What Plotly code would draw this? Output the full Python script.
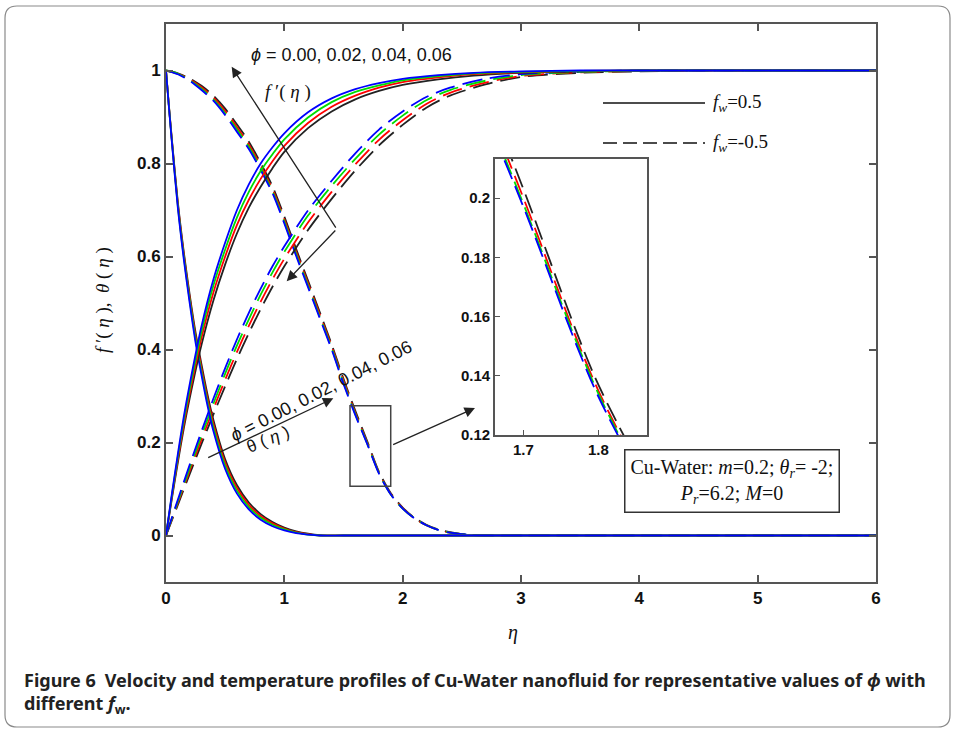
import plotly.graph_objects as go

# ---------------- data ----------------
phi_labels = ["0.00", "0.02", "0.04", "0.06"]
series_colors = ["#222222", "#ff0000", "#00dd00", "#0000ff"]

# f'(eta), f_w = 0.5 (solid)
eta_fp_s = [0, 0.05, 0.1, 0.15, 0.2, 0.3, 0.4, 0.5, 0.6, 0.7, 0.8, 0.9, 1.0, 1.2, 1.4, 1.6, 1.8, 2.0, 2.3, 2.6, 3.0, 3.5, 4.0, 5.0, 6.0]
fp_s_000 = [0, 0.080, 0.157, 0.230, 0.295, 0.410, 0.505, 0.583, 0.650, 0.705, 0.750, 0.790, 0.825, 0.876, 0.912, 0.938, 0.956, 0.969, 0.981, 0.989, 0.995, 0.998, 1.0, 1.0, 1.0]
fp_s_002 = [0, 0.084, 0.163, 0.238, 0.305, 0.425, 0.522, 0.600, 0.668, 0.722, 0.767, 0.805, 0.838, 0.887, 0.922, 0.946, 0.963, 0.975, 0.985, 0.992, 0.996, 0.999, 1.0, 1.0, 1.0]
fp_s_004 = [0, 0.087, 0.169, 0.247, 0.315, 0.438, 0.537, 0.615, 0.684, 0.739, 0.784, 0.820, 0.852, 0.899, 0.932, 0.954, 0.968, 0.979, 0.988, 0.994, 0.997, 0.999, 1.0, 1.0, 1.0]
fp_s_006 = [0, 0.090, 0.175, 0.255, 0.325, 0.450, 0.550, 0.630, 0.700, 0.755, 0.800, 0.835, 0.865, 0.910, 0.940, 0.960, 0.973, 0.982, 0.990, 0.995, 0.998, 1.0, 1.0, 1.0, 1.0]

# theta(eta), f_w = 0.5 (solid)
eta_th_s = [0, 0.025, 0.05, 0.1, 0.15, 0.2, 0.25, 0.3, 0.35, 0.4, 0.5, 0.6, 0.7, 0.8, 0.9, 1.0, 1.1, 1.2, 1.3, 1.5, 2.0, 3.0, 4.0, 5.0, 6.0]
th_s_000 = [1.0, 0.923, 0.851, 0.717, 0.610, 0.518, 0.436, 0.368, 0.304, 0.249, 0.164, 0.108, 0.071, 0.046, 0.029, 0.017, 0.009, 0.004, 0.001, 0, 0, 0, 0, 0, 0]
th_s_002 = [1.0, 0.922, 0.849, 0.713, 0.605, 0.512, 0.429, 0.360, 0.296, 0.241, 0.157, 0.102, 0.066, 0.042, 0.026, 0.015, 0.007, 0.003, 0.0, 0, 0, 0, 0, 0, 0]
th_s_004 = [1.0, 0.921, 0.847, 0.709, 0.600, 0.506, 0.422, 0.352, 0.288, 0.233, 0.150, 0.096, 0.061, 0.038, 0.023, 0.013, 0.006, 0.002, 0.0, 0, 0, 0, 0, 0, 0]
th_s_006 = [1.0, 0.920, 0.845, 0.705, 0.595, 0.500, 0.415, 0.345, 0.280, 0.225, 0.143, 0.090, 0.056, 0.034, 0.020, 0.011, 0.005, 0.002, 0.0, 0, 0, 0, 0, 0, 0]

# f'(eta), f_w = -0.5 (dashed)
eta_fp_d = [0, 0.1, 0.2, 0.3, 0.4, 0.5, 0.6, 0.7, 0.8, 0.9, 1.0, 1.2, 1.4, 1.6, 1.8, 2.0, 2.2, 2.4, 2.7, 3.0, 3.5, 4.0, 4.5, 5.0, 6.0]
fp_d_000 = [0, 0.066, 0.132, 0.197, 0.260, 0.321, 0.380, 0.435, 0.487, 0.535, 0.579, 0.657, 0.724, 0.785, 0.839, 0.883, 0.920, 0.946, 0.970, 0.986, 0.995, 0.998, 1.0, 1.0, 1.0]
fp_d_002 = [0, 0.070, 0.139, 0.206, 0.272, 0.335, 0.395, 0.451, 0.503, 0.551, 0.595, 0.673, 0.739, 0.798, 0.851, 0.893, 0.928, 0.952, 0.974, 0.988, 0.996, 0.999, 1.0, 1.0, 1.0]
fp_d_004 = [0, 0.073, 0.145, 0.215, 0.283, 0.348, 0.409, 0.465, 0.518, 0.566, 0.610, 0.688, 0.752, 0.810, 0.862, 0.903, 0.936, 0.958, 0.978, 0.990, 0.997, 0.999, 1.0, 1.0, 1.0]
fp_d_006 = [0, 0.077, 0.152, 0.224, 0.294, 0.360, 0.422, 0.479, 0.531, 0.579, 0.622, 0.699, 0.763, 0.822, 0.873, 0.912, 0.943, 0.963, 0.982, 0.992, 0.998, 1.0, 1.0, 1.0, 1.0]

# theta(eta), f_w = -0.5 (dashed)
eta_th_d = [0, 0.1, 0.2, 0.3, 0.4, 0.5, 0.6, 0.7, 0.8, 0.9, 1.0, 1.1, 1.2, 1.3, 1.4, 1.5, 1.6, 1.7, 1.8, 1.9, 2.0, 2.1, 2.2, 2.3, 2.4, 2.5, 2.6, 2.7, 3.0, 4.0, 5.0, 6.0]
th_d_000 = [1.0, 0.994, 0.983, 0.967, 0.946, 0.918, 0.884, 0.847, 0.801, 0.751, 0.686, 0.616, 0.548, 0.480, 0.411, 0.337, 0.268, 0.203, 0.137, 0.091, 0.060, 0.038, 0.023, 0.013, 0.007, 0.003, 0.001, 0, 0, 0, 0, 0]
th_d_002 = [1.0, 0.993, 0.981, 0.964, 0.942, 0.913, 0.878, 0.841, 0.795, 0.745, 0.680, 0.610, 0.543, 0.475, 0.407, 0.333, 0.264, 0.200, 0.135, 0.089, 0.059, 0.037, 0.022, 0.012, 0.006, 0.003, 0.001, 0, 0, 0, 0, 0]
th_d_004 = [1.0, 0.993, 0.979, 0.961, 0.938, 0.908, 0.873, 0.836, 0.790, 0.740, 0.675, 0.605, 0.538, 0.470, 0.403, 0.329, 0.261, 0.198, 0.134, 0.088, 0.058, 0.037, 0.022, 0.012, 0.006, 0.003, 0.001, 0, 0, 0, 0, 0]
th_d_006 = [1.0, 0.992, 0.978, 0.958, 0.935, 0.904, 0.868, 0.831, 0.786, 0.736, 0.671, 0.601, 0.534, 0.467, 0.400, 0.326, 0.259, 0.197, 0.133, 0.088, 0.058, 0.037, 0.022, 0.012, 0.006, 0.003, 0.001, 0, 0, 0, 0, 0]

x_ticks = [0, 1, 2, 3, 4, 5, 6]
y_ticks = [0, 0.2, 0.4, 0.6, 0.8, 1]
y_ticktext = ["0", "0.2", "0.4", "0.6", "0.8", "1"]
inset_x_ticks = [1.7, 1.8]
inset_y_ticks = [0.12, 0.14, 0.16, 0.18, 0.2]
inset_y_ticktext = ["0.12", "0.14", "0.16", "0.18", "0.2"]

# ---------------- layout helpers ----------------
W, H = 955, 732
L, R, T, B = 166, 876, 24, 582


def pxx(px):
    return (px - L) / (R - L)


def pxy(py):
    return (B - py) / (B - T)


DASH = "20px,8px"
fig = go.Figure()

groups = [
    (eta_th_d, [th_d_000, th_d_002, th_d_004, th_d_006], DASH, "θ, fw=-0.5"),
    (eta_fp_d, [fp_d_000, fp_d_002, fp_d_004, fp_d_006], DASH, "f', fw=-0.5"),
    (eta_th_s, [th_s_000, th_s_002, th_s_004, th_s_006], "solid", "θ, fw=0.5"),
    (eta_fp_s, [fp_s_000, fp_s_002, fp_s_004, fp_s_006], "solid", "f', fw=0.5"),
]
for eta, ys, dash, nm in groups:
    for lab, col, y in zip(phi_labels, series_colors, ys):
        fig.add_trace(go.Scatter(
            x=eta, y=y, mode="lines", name=f"{nm}, φ={lab}",
            line=dict(color=col, width=1.8, dash=dash, shape="spline", smoothing=0.8),
            showlegend=False, xaxis="x", yaxis="y"))

# inset: zoom of dashed theta
for lab, col, y in zip(phi_labels, series_colors, [th_d_000, th_d_002, th_d_004, th_d_006]):
    fig.add_trace(go.Scatter(
        x=eta_th_d, y=y, mode="lines", showlegend=False,
        line=dict(color=col, width=1.8, dash=DASH, shape="spline", smoothing=0.8),
        xaxis="x2", yaxis="y2"))

axis_col = "#555555"
tickfont = dict(family="Liberation Sans, Arial", size=17, color="#111", weight="bold")
insetfont = dict(family="Liberation Sans, Arial", size=15, color="#111", weight="bold")

fig.update_layout(
    width=W, height=H,
    margin=dict(l=L, r=W - R, t=T, b=H - B, pad=0),
    paper_bgcolor="white", plot_bgcolor="white",
    xaxis=dict(range=[0, 6], tickvals=x_ticks, ticks="inside", ticklen=7, tickwidth=1.5,
               tickcolor=axis_col, showline=True, linecolor=axis_col, linewidth=1.8,
               mirror="ticks", showgrid=False, zeroline=False, tickfont=tickfont,
               domain=[0, 1]),
    yaxis=dict(range=[-0.1, 1.1], tickvals=y_ticks, ticktext=y_ticktext, ticks="inside",
               ticklen=7, tickwidth=1.5, tickcolor=axis_col, showline=True, linecolor=axis_col,
               linewidth=1.8, mirror="ticks", showgrid=False, zeroline=False, tickfont=tickfont,
               domain=[0, 1]),
    xaxis2=dict(range=[1.662, 1.865], tickvals=inset_x_ticks, ticktext=["1.7", "1.8"],
                ticks="inside", ticklen=5, tickcolor=axis_col, showline=True,
                linecolor=axis_col, linewidth=1.8, mirror=True, showgrid=False, zeroline=False,
                tickfont=insetfont, domain=[pxx(495), pxx(647)], anchor="y2"),
    yaxis2=dict(range=[0.12, 0.2132], tickvals=inset_y_ticks, ticktext=inset_y_ticktext,
                ticks="inside", ticklen=5, tickcolor=axis_col, showline=True,
                linecolor=axis_col, linewidth=1.8, mirror=True, showgrid=False, zeroline=False,
                tickfont=insetfont, domain=[pxy(435), pxy(159)], anchor="x2"),
)

shapes = []
# outer rounded frame
x0, x1, y0, y1 = pxx(5), pxx(950), pxy(727), pxy(6)
rx, ry = 12 / (R - L), 12 / (B - T)
path = (f"M {x0+rx},{y1} L {x1-rx},{y1} Q {x1},{y1} {x1},{y1-ry} L {x1},{y0+ry} "
        f"Q {x1},{y0} {x1-rx},{y0} L {x0+rx},{y0} Q {x0},{y0} {x0},{y0+ry} "
        f"L {x0},{y1-ry} Q {x0},{y1} {x0+rx},{y1} Z")
shapes.append(dict(type="path", xref="paper", yref="paper", path=path,
                   line=dict(color="#8a8a8a", width=1.2)))
# legend samples
shapes.append(dict(type="line", xref="paper", yref="paper", x0=pxx(603), x1=pxx(705),
                   y0=pxy(103), y1=pxy(103), line=dict(color="#111", width=1.5)))
shapes.append(dict(type="line", xref="paper", yref="paper", x0=pxx(603), x1=pxx(705),
                   y0=pxy(143), y1=pxy(143), line=dict(color="#111", width=1.5, dash="14px,6px")))
# zoom rectangle
shapes.append(dict(type="rect", xref="x", yref="y", x0=1.555, x1=1.899, y0=0.106, y1=0.279,
                   line=dict(color="#444", width=1.5)))
fig.update_layout(shapes=shapes)

serif = "Liberation Serif, Times New Roman"
sans = "Liberation Sans, Arial"
ann = []


def arrow(xh, yh, xt, yt):
    ann.append(dict(x=xh, y=yh, ax=xt, ay=yt, xref="x", yref="y", axref="x", ayref="y",
                    text="", showarrow=True, arrowhead=2, arrowsize=1.6, arrowwidth=1.3,
                    arrowcolor="#222"))


def label(px, py, text, font, angle=0, xanchor="center", **kw):
    ann.append(dict(x=pxx(px), y=pxy(py), xref="paper", yref="paper", showarrow=False,
                    xanchor=xanchor, yanchor="middle", textangle=angle, text=text, font=font, **kw))


arrow(0.555, 1.008, 1.443, 0.659)
arrow(1.02, 0.547, 1.443, 0.659)
arrow(1.414, 0.295, 0.344, 0.166)
arrow(2.611, 0.274, 1.907, 0.194)

label(351, 55, "<i>ϕ</i> = 0.00, 0.02, 0.04, 0.06", dict(family=sans, size=18, color="#111"))
label(288, 92, "<i>f</i> ′( <i>η</i> )", dict(family=serif, size=19, color="#111"))
label(321, 391, "<i>ϕ</i> = 0.00, 0.02, 0.04, 0.06", dict(family=sans, size=18, color="#111"), angle=-27)
label(268, 440, "θ ( <i>η</i> )", dict(family=sans, size=17, color="#111"), angle=-22)
# legend labels
label(711, 103, "<i>f</i><sub><i>w</i></sub>=0.5", dict(family=serif, size=19, color="#111"), xanchor="left")
label(711, 143, "<i>f</i><sub><i>w</i></sub>=-0.5", dict(family=serif, size=19, color="#111"), xanchor="left")
# parameter box
label(732, 481, "Cu-Water: <i>m</i>=0.2; <i>θ</i><sub><i>r</i></sub>= -2;<br><i>P</i><sub><i>r</i></sub>=6.2; <i>M</i>=0",
      dict(family=serif, size=20, color="#111"), bordercolor="#333", borderwidth=1.5,
      borderpad=5, bgcolor="white")
# axis titles
label(103, 300, "<i>f</i> ′( <i>η</i> ),  <i>θ</i> ( <i>η</i> )", dict(family=serif, size=19, color="#111"), angle=-90)
label(513, 632, "<i>η</i>", dict(family=serif, size=20, color="#111"))
# caption
capfont = dict(family="Noto Sans, Open Sans", size=18, color="#222", weight="bold")
label(22, 680, "Figure 6\u2002Velocity and temperature profiles of Cu-Water nanofluid for representative values of <i>ϕ</i> with",
      capfont, xanchor="left")
label(22, 704, "different <i>f</i><sub>w</sub>.", capfont, xanchor="left")
fig.update_layout(annotations=ann)

fig.write_html("out.html")
